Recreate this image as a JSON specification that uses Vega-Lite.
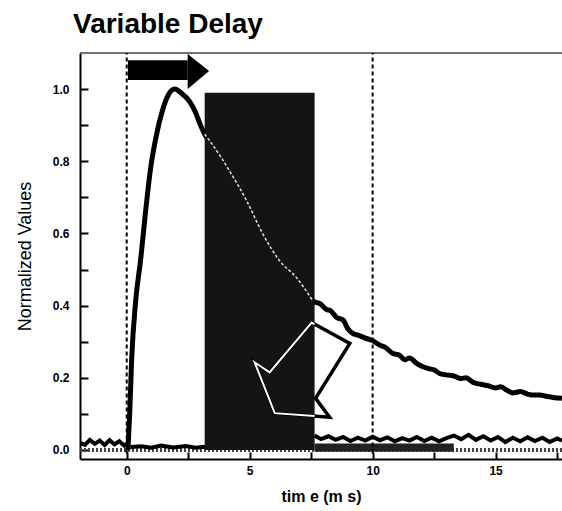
{
  "$schema": "https://vega.github.io/schema/vega-lite/v6.json",
  "autosize": "none",
  "width": 482,
  "height": 406,
  "padding": {"left": 80, "top": 53, "right": 0, "bottom": 52},
  "background": "white",
  "config": {"view": {"stroke": null}, "font": "Liberation Sans"},
  "title": {"text": "Variable Delay", "anchor": "start", "frame": "group", "dx": -7, "offset": 13, "fontSize": 28, "fontWeight": "bold", "font": "Liberation Sans", "color": "black"},
  "datasets": {
    "curve": [
      {"t": 0.05, "y": 0.0}, {"t": 0.12, "y": 0.1}, {"t": 0.2, "y": 0.25}, {"t": 0.36, "y": 0.41},
      {"t": 0.57, "y": 0.53}, {"t": 0.75, "y": 0.65}, {"t": 0.97, "y": 0.78}, {"t": 1.2, "y": 0.87},
      {"t": 1.45, "y": 0.94}, {"t": 1.7, "y": 0.985}, {"t": 1.95, "y": 1.0}, {"t": 2.2, "y": 0.99},
      {"t": 2.56, "y": 0.965}, {"t": 2.8, "y": 0.935}, {"t": 2.97, "y": 0.905},
      {"t": 3.17, "y": 0.875}, {"t": 3.5, "y": 0.845}, {"t": 4.19, "y": 0.772}, {"t": 4.88, "y": 0.69},
      {"t": 5.53, "y": 0.599}, {"t": 6.22, "y": 0.524}, {"t": 6.91, "y": 0.477}, {"t": 7.56, "y": 0.414},
      {"t": 7.64, "y": 0.41}, {"t": 7.85, "y": 0.406}, {"t": 8.1, "y": 0.39}, {"t": 8.3, "y": 0.385},
      {"t": 8.54, "y": 0.367}, {"t": 8.8, "y": 0.36}, {"t": 9.0, "y": 0.335}, {"t": 9.19, "y": 0.323},
      {"t": 9.4, "y": 0.318}, {"t": 9.7, "y": 0.31}, {"t": 10.0, "y": 0.303}, {"t": 10.3, "y": 0.29},
      {"t": 10.5, "y": 0.285}, {"t": 10.81, "y": 0.268}, {"t": 11.1, "y": 0.262}, {"t": 11.3, "y": 0.25},
      {"t": 11.5, "y": 0.255}, {"t": 11.79, "y": 0.24}, {"t": 12.0, "y": 0.232}, {"t": 12.3, "y": 0.225},
      {"t": 12.5, "y": 0.222}, {"t": 12.72, "y": 0.212}, {"t": 13.0, "y": 0.208}, {"t": 13.3, "y": 0.205},
      {"t": 13.6, "y": 0.198}, {"t": 13.8, "y": 0.2}, {"t": 14.07, "y": 0.188}, {"t": 14.4, "y": 0.182},
      {"t": 14.7, "y": 0.178}, {"t": 15.0, "y": 0.172}, {"t": 15.2, "y": 0.175}, {"t": 15.45, "y": 0.166},
      {"t": 15.7, "y": 0.158}, {"t": 16.0, "y": 0.162}, {"t": 16.3, "y": 0.155}, {"t": 16.5, "y": 0.152},
      {"t": 16.79, "y": 0.152}, {"t": 17.1, "y": 0.148}, {"t": 17.4, "y": 0.145}, {"t": 17.7, "y": 0.143}
    ],
    "inbox": [
      {"t": 3.17, "y": 0.875}, {"t": 3.5, "y": 0.845}, {"t": 4.19, "y": 0.772}, {"t": 4.88, "y": 0.69},
      {"t": 5.53, "y": 0.599}, {"t": 6.22, "y": 0.524}, {"t": 6.91, "y": 0.477}, {"t": 7.56, "y": 0.414}
    ],
    "base": [
      {"s": "left", "t": -1.9, "y": 0.02}, {"s": "left", "t": -1.7, "y": 0.014}, {"s": "left", "t": -1.5, "y": 0.028},
      {"s": "left", "t": -1.3, "y": 0.017}, {"s": "left", "t": -1.1, "y": 0.026}, {"s": "left", "t": -0.9, "y": 0.014},
      {"s": "left", "t": -0.7, "y": 0.027}, {"s": "left", "t": -0.5, "y": 0.016}, {"s": "left", "t": -0.3, "y": 0.024},
      {"s": "left", "t": -0.1, "y": 0.012}, {"s": "left", "t": 0.05, "y": 0.02},
      {"s": "mid", "t": 0.15, "y": 0.008}, {"s": "mid", "t": 0.6, "y": 0.01}, {"s": "mid", "t": 1.0, "y": 0.006},
      {"s": "mid", "t": 1.4, "y": 0.012}, {"s": "mid", "t": 1.9, "y": 0.007}, {"s": "mid", "t": 2.4, "y": 0.011},
      {"s": "mid", "t": 2.8, "y": 0.006}, {"s": "mid", "t": 3.2, "y": 0.009},
      {"s": "right", "t": 7.64, "y": 0.04}, {"s": "right", "t": 7.9, "y": 0.03}, {"s": "right", "t": 8.2, "y": 0.038},
      {"s": "right", "t": 8.5, "y": 0.028}, {"s": "right", "t": 8.8, "y": 0.036}, {"s": "right", "t": 9.1, "y": 0.025},
      {"s": "right", "t": 9.4, "y": 0.034}, {"s": "right", "t": 9.7, "y": 0.026}, {"s": "right", "t": 10.0, "y": 0.037},
      {"s": "right", "t": 10.3, "y": 0.027}, {"s": "right", "t": 10.6, "y": 0.035}, {"s": "right", "t": 10.9, "y": 0.024},
      {"s": "right", "t": 11.2, "y": 0.033}, {"s": "right", "t": 11.5, "y": 0.026}, {"s": "right", "t": 11.8, "y": 0.036},
      {"s": "right", "t": 12.1, "y": 0.025}, {"s": "right", "t": 12.4, "y": 0.034}, {"s": "right", "t": 12.7, "y": 0.024},
      {"s": "right", "t": 13.0, "y": 0.033}, {"s": "right", "t": 13.3, "y": 0.04}, {"s": "right", "t": 13.6, "y": 0.03},
      {"s": "right", "t": 13.9, "y": 0.042}, {"s": "right", "t": 14.2, "y": 0.028}, {"s": "right", "t": 14.5, "y": 0.038},
      {"s": "right", "t": 14.8, "y": 0.026}, {"s": "right", "t": 15.1, "y": 0.036}, {"s": "right", "t": 15.4, "y": 0.022},
      {"s": "right", "t": 15.7, "y": 0.034}, {"s": "right", "t": 16.0, "y": 0.024}, {"s": "right", "t": 16.3, "y": 0.035},
      {"s": "right", "t": 16.6, "y": 0.025}, {"s": "right", "t": 16.9, "y": 0.034}, {"s": "right", "t": 17.2, "y": 0.022},
      {"s": "right", "t": 17.5, "y": 0.032}, {"s": "right", "t": 17.7, "y": 0.026}
    ],
    "floor": [
      {"t": -1.9, "y": 0.0}, {"t": 17.7, "y": 0.0}
    ],
    "band": [
      {"t0": 7.64, "t1": 13.3, "y0": -0.005, "y1": 0.018}
    ],
    "box": [
      {"t0": 3.17, "t1": 7.64, "y0": 0.0, "y1": 0.99}
    ],
    "vlines": [{"t": 0}, {"t": 10}],
    "arrowbody": [{"t0": 0.05, "t1": 2.48, "y0": 1.025, "y1": 1.08}],
    "arrowhead": [
      {"t": 2.48, "top": 1.097, "bot": 1.0},
      {"t": 3.35, "top": 1.05, "bot": 1.05}
    ],
    "hollow": [
      {"o": 1, "t": 7.52, "y": 0.353}, {"o": 2, "t": 9.07, "y": 0.295}, {"o": 3, "t": 7.68, "y": 0.143},
      {"o": 4, "t": 8.25, "y": 0.091}, {"o": 5, "t": 6.02, "y": 0.102}, {"o": 6, "t": 5.2, "y": 0.243},
      {"o": 7, "t": 5.81, "y": 0.215}, {"o": 8, "t": 7.52, "y": 0.353}
    ],
    "hollowin": [
      {"o": 1, "t": 7.64, "y": 0.094}, {"o": 2, "t": 6.02, "y": 0.102}, {"o": 3, "t": 5.2, "y": 0.243},
      {"o": 4, "t": 5.81, "y": 0.215}, {"o": 5, "t": 7.52, "y": 0.353}, {"o": 6, "t": 7.64, "y": 0.348}
    ]
  },
  "layer": [
    {
      "data": {"name": "floor"},
      "mark": {"type": "line", "color": "#444", "strokeWidth": 4, "strokeDash": [2, 2], "clip": true},
      "encoding": {
        "x": {"field": "t", "type": "quantitative", "scale": {"domain": [-1.9, 17.7], "nice": false, "zero": false},
          "axis": {"values": [0, 2.5, 5, 7.5, 10, 12.5, 15, 17.5],
            "labelExpr": "datum.value % 5 == 0 ? datum.label : ''",
            "title": "tim e (m s)", "titleFontSize": 16, "titleFontWeight": "bold", "titlePadding": 12,
            "labelFontSize": 12, "labelFontWeight": "bold", "labelPadding": 13, "labelColor": "black", "titleColor": "black",
            "tickSize": -7, "tickWidth": 2, "tickColor": "black", "domainColor": "black", "domainWidth": 2, "grid": false}},
        "y": {"field": "y", "type": "quantitative", "scale": {"domain": [-0.025, 1.1], "nice": false, "zero": false},
          "axis": {"values": [0, 0.1, 0.2, 0.3, 0.4, 0.5, 0.6, 0.7, 0.8, 0.9, 1.0],
            "labelExpr": "round(datum.value * 10) % 2 == 0 ? format(datum.value, '.1f') : ''",
            "title": "Normalized Values", "titleFontSize": 18, "titleFontWeight": "normal", "titlePadding": 18,
            "labelFontSize": 12, "labelFontWeight": "bold", "labelPadding": 19, "labelColor": "black", "titleColor": "black",
            "tickSize": -8, "tickWidth": 2, "tickColor": "black", "domainColor": "black", "domainWidth": 2, "grid": false}}
      }
    },
    {
      "data": {"name": "floor"},
      "mark": {"type": "rule", "color": "#444", "strokeWidth": 1},
      "encoding": {
        "x": {"datum": -1.9, "type": "quantitative"},
        "x2": {"datum": 17.7},
        "y": {"datum": 1.1, "type": "quantitative"}
      }
    },
    {
      "data": {"name": "band"},
      "mark": {"type": "rect", "color": "#222", "clip": true},
      "encoding": {
        "x": {"field": "t0", "type": "quantitative"}, "x2": {"field": "t1"},
        "y": {"field": "y0", "type": "quantitative"}, "y2": {"field": "y1"}
      }
    },
    {
      "data": {"name": "base"},
      "mark": {"type": "line", "color": "black", "strokeWidth": 4, "clip": true},
      "encoding": {
        "x": {"field": "t", "type": "quantitative"},
        "y": {"field": "y", "type": "quantitative"},
        "detail": {"field": "s"}
      }
    },
    {
      "data": {"name": "curve"},
      "mark": {"type": "line", "color": "black", "strokeWidth": 5, "interpolate": "monotone", "clip": true},
      "encoding": {
        "x": {"field": "t", "type": "quantitative"},
        "y": {"field": "y", "type": "quantitative"}
      }
    },
    {
      "data": {"name": "box"},
      "mark": {"type": "rect", "color": "#141414"},
      "encoding": {
        "x": {"field": "t0", "type": "quantitative"}, "x2": {"field": "t1"},
        "y": {"field": "y0", "type": "quantitative"}, "y2": {"field": "y1"}
      }
    },
    {
      "data": {"name": "inbox"},
      "mark": {"type": "line", "color": "#dddddd", "strokeWidth": 1.5, "strokeDash": [3, 2], "interpolate": "monotone"},
      "encoding": {
        "x": {"field": "t", "type": "quantitative"},
        "y": {"field": "y", "type": "quantitative"}
      }
    },
    {
      "data": {"name": "vlines"},
      "mark": {"type": "rule", "color": "black", "strokeWidth": 2, "strokeDash": [4, 3]},
      "encoding": {
        "x": {"field": "t", "type": "quantitative"},
        "y": {"datum": -0.01, "type": "quantitative"},
        "y2": {"datum": 1.1}
      }
    },
    {
      "data": {"name": "arrowbody"},
      "mark": {"type": "rect", "color": "black"},
      "encoding": {
        "x": {"field": "t0", "type": "quantitative"}, "x2": {"field": "t1"},
        "y": {"field": "y0", "type": "quantitative"}, "y2": {"field": "y1"}
      }
    },
    {
      "data": {"name": "arrowhead"},
      "mark": {"type": "area", "color": "black", "opacity": 1},
      "encoding": {
        "x": {"field": "t", "type": "quantitative"},
        "y": {"field": "top", "type": "quantitative"},
        "y2": {"field": "bot"}
      }
    },
    {
      "data": {"name": "hollow"},
      "mark": {"type": "line", "color": "black", "strokeWidth": 3.5, "strokeJoin": "miter"},
      "encoding": {
        "x": {"field": "t", "type": "quantitative"},
        "y": {"field": "y", "type": "quantitative"},
        "order": {"field": "o"}
      }
    },
    {
      "data": {"name": "hollowin"},
      "mark": {"type": "line", "color": "white", "strokeWidth": 2, "strokeJoin": "miter"},
      "encoding": {
        "x": {"field": "t", "type": "quantitative"},
        "y": {"field": "y", "type": "quantitative"},
        "order": {"field": "o"}
      }
    }
  ]
}
